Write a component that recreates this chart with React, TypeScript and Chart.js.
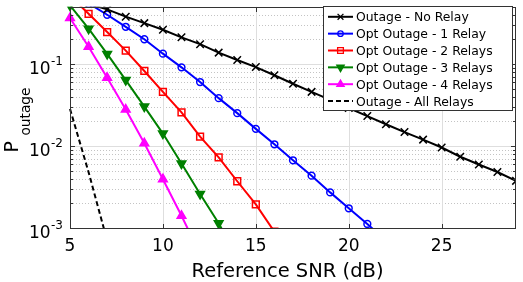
import React, { useEffect, useRef } from 'react';
import { Chart, registerables } from 'chart.js';

Chart.register(...registerables);

// ---- data ----
const snrNoRelay = [5, 6, 7, 8, 9, 10, 11, 12, 13, 14, 15, 16, 17, 18, 19, 20, 21, 22, 23, 24, 25, 26, 27, 28, 29];
const pNoRelay = [0.62, 0.54, 0.465, 0.379, 0.316, 0.262, 0.212, 0.175, 0.138, 0.112, 0.092, 0.073, 0.0576, 0.0458, 0.0366, 0.0291, 0.0232, 0.01845, 0.0148, 0.01197, 0.0096, 0.0074, 0.00596, 0.00482, 0.00376];

const snrOneRelay = [5, 6, 7, 8, 9, 10, 11, 12, 13, 14, 15, 16, 17, 18, 19, 20, 21, 22];
const pOneRelay = [0.7, 0.55, 0.4, 0.285, 0.201, 0.134, 0.0913, 0.0604, 0.0384, 0.0252, 0.0162, 0.0105, 0.0067, 0.00435, 0.00272, 0.00174, 0.00112, 0.0007];

const snrTwoRelays = [5, 6, 7, 8, 9, 10, 11, 12, 13, 14, 15, 16];
const pTwoRelays = [0.68, 0.411, 0.246, 0.146, 0.0824, 0.0458, 0.0257, 0.013, 0.00728, 0.00372, 0.00194, 0.0009];

const snrThreeRelays = [5, 6, 7, 8, 9, 10, 11, 12, 13, 14];
const pThreeRelays = [0.52, 0.27, 0.133, 0.0638, 0.0303, 0.0142, 0.00612, 0.0026, 0.00114, 0.00045];

const snrFourRelays = [5, 6, 7, 8, 9, 10, 11, 12];
const pFourRelays = [0.365, 0.163, 0.068, 0.0279, 0.0108, 0.00394, 0.00141, 0.00048];

const snrAllRelays = [5, 6, 7];
const pAllRelays = [0.0284, 0.0048, 0.0007];

const seriesLabels = [
  'Outage - No Relay',
  'Opt Outage - 1 Relay',
  'Opt Outage - 2 Relays',
  'Opt Outage - 3 Relays',
  'Opt Outage - 4 Relays',
  'Outage - All Relays',
];

const xTickValues = [5, 10, 15, 20, 25];
const yDecadeExponents = [-3, -2, -1];
const xMin = 5;
const xMax = 29;
const yMin = 0.001;
const yMax = 0.5;
const xTitle = 'Reference SNR (dB)';
const yTitleMain = 'P';
const yTitleSub = 'outage';

// ---- styles ----
const FONT = '"DejaVu Sans", "Liberation Sans", sans-serif';
const AXIS = '#333333';

type Marker = { style: string; radius: number; filled: boolean; rotation: number };
const seriesStyles: { color: string; dash: number[]; marker: Marker | null }[] = [
  { color: '#000000', dash: [], marker: { style: 'crossRot', radius: 5.3, filled: false, rotation: 0 } },
  { color: '#0000ff', dash: [], marker: { style: 'circle', radius: 3.4, filled: false, rotation: 0 } },
  { color: '#ff0000', dash: [], marker: { style: 'rect', radius: 4.8, filled: false, rotation: 0 } },
  { color: '#008000', dash: [], marker: { style: 'triangle', radius: 5, filled: true, rotation: 180 } },
  { color: '#ff00ff', dash: [], marker: { style: 'triangle', radius: 5, filled: true, rotation: 0 } },
  { color: '#000000', dash: [5, 3], marker: null },
];

const seriesX = [snrNoRelay, snrOneRelay, snrTwoRelays, snrThreeRelays, snrFourRelays, snrAllRelays];
const seriesY = [pNoRelay, pOneRelay, pTwoRelays, pThreeRelays, pFourRelays, pAllRelays];

function drawLegendMarker(ctx: CanvasRenderingContext2D, m: Marker, x: number, y: number, color: string, r: number) {
  ctx.save();
  ctx.strokeStyle = color;
  ctx.fillStyle = color;
  ctx.lineWidth = 1.3;
  ctx.setLineDash([]);
  ctx.beginPath();
  if (m.style === 'circle') {
    ctx.arc(x, y, r * 0.8, 0, Math.PI * 2);
    ctx.stroke();
  } else if (m.style === 'rect') {
    const s = r * 0.6;
    ctx.rect(x - s, y - s, 2 * s, 2 * s);
    ctx.stroke();
  } else if (m.style === 'crossRot') {
    const s = r * 0.55;
    ctx.moveTo(x - s, y - s);
    ctx.lineTo(x + s, y + s);
    ctx.moveTo(x - s, y + s);
    ctx.lineTo(x + s, y - s);
    ctx.stroke();
  } else if (m.style === 'triangle') {
    const rr = r * 0.85;
    let rad = (m.rotation * Math.PI) / 180;
    for (let i = 0; i < 3; i++) {
      const px = x + Math.sin(rad) * rr;
      const py = y - Math.cos(rad) * rr;
      if (i === 0) ctx.moveTo(px, py);
      else ctx.lineTo(px, py);
      rad += (2 * Math.PI) / 3;
    }
    ctx.closePath();
    ctx.fill();
    ctx.stroke();
  }
  ctx.restore();
}

const overlayPlugin = {
  id: 'matlabOverlay',
  beforeDatasetsDraw(chart: any) {
    const { ctx, chartArea: a, scales } = chart;
    const xs = scales.x;
    const ys = scales.y;
    ctx.save();
    ctx.lineWidth = 1;
    // minor y grid (dotted)
    ctx.strokeStyle = '#c4c4c4';
    ctx.setLineDash([1, 2]);
    for (const e of yDecadeExponents) {
      for (let k = 2; k <= 9; k++) {
        const v = k * Math.pow(10, e);
        if (v >= yMax) continue;
        const py = Math.round(ys.getPixelForValue(v)) + 0.5;
        ctx.beginPath();
        ctx.moveTo(a.left, py);
        ctx.lineTo(a.right, py);
        ctx.stroke();
      }
    }
    ctx.setLineDash([]);
    ctx.strokeStyle = '#dedede';
    for (const e of yDecadeExponents) {
      const v = Math.pow(10, e);
      if (v <= yMin) continue;
      const py = Math.round(ys.getPixelForValue(v)) + 0.5;
      ctx.beginPath();
      ctx.moveTo(a.left, py);
      ctx.lineTo(a.right, py);
      ctx.stroke();
    }
    for (const v of xTickValues) {
      if (v <= xMin) continue;
      const px = Math.round(xs.getPixelForValue(v)) + 0.5;
      ctx.beginPath();
      ctx.moveTo(px, a.top);
      ctx.lineTo(px, a.bottom);
      ctx.stroke();
    }
    ctx.restore();
  },
  afterDatasetsDraw(chart: any) {
    const { ctx, chartArea: a, scales } = chart;
    const xs = scales.x;
    const ys = scales.y;
    ctx.save();
    // axis box
    ctx.strokeStyle = AXIS;
    ctx.lineWidth = 1;
    ctx.setLineDash([]);
    const L = Math.round(a.left) + 0.5;
    const R = Math.round(a.right) - 0.5;
    const T = Math.round(a.top) + 0.5;
    const B = Math.round(a.bottom) + 0.5;
    ctx.strokeRect(L, T, R - L, B - T);
    // inward ticks
    ctx.beginPath();
    for (const v of xTickValues) {
      const px = Math.round(xs.getPixelForValue(v)) + 0.5;
      ctx.moveTo(px, B);
      ctx.lineTo(px, B - 4.5);
      ctx.moveTo(px, T);
      ctx.lineTo(px, T + 4.5);
    }
    for (const e of yDecadeExponents) {
      for (let k = 1; k <= 9; k++) {
        const v = k * Math.pow(10, e);
        if (v > yMax) continue;
        const len = k === 1 ? 4.5 : 2.5;
        const py = Math.round(ys.getPixelForValue(v)) + 0.5;
        ctx.moveTo(L, py);
        ctx.lineTo(L + len, py);
        ctx.moveTo(R, py);
        ctx.lineTo(R - len, py);
      }
    }
    ctx.stroke();

    // x tick labels
    ctx.fillStyle = '#000000';
    ctx.font = `17px ${FONT}`;
    ctx.textAlign = 'center';
    ctx.textBaseline = 'alphabetic';
    for (const v of xTickValues) {
      ctx.fillText(String(v), xs.getPixelForValue(v), 251);
    }
    // y tick labels 10^e
    for (const e of yDecadeExponents) {
      const py = ys.getPixelForValue(Math.pow(10, e));
      ctx.font = `12px ${FONT}`;
      const sup = String(e);
      const supW = ctx.measureText(sup).width;
      const supRight = a.left - 7;
      ctx.textAlign = 'left';
      ctx.fillText(sup, supRight - supW, py + 0.5);
      ctx.font = `17px ${FONT}`;
      ctx.textAlign = 'right';
      ctx.fillText('10', supRight - supW - 0.5, py + 9.5);
    }
    // x title
    ctx.font = `19.5px ${FONT}`;
    ctx.textAlign = 'center';
    ctx.fillText(xTitle, 287.5, 276.5);
    // y title (rotated)
    ctx.save();
    ctx.translate(17.5, 152.5);
    ctx.rotate(-Math.PI / 2);
    ctx.textAlign = 'left';
    ctx.font = `19px ${FONT}`;
    ctx.fillText(yTitleMain, 0, 0);
    ctx.font = `13.7px ${FONT}`;
    ctx.fillText(yTitleSub, 17, 12);
    ctx.restore();

    // legend
    const lx = 323.5;
    const ly = 6.5;
    const lw = 189;
    const lh = 104;
    ctx.fillStyle = '#ffffff';
    ctx.fillRect(lx, ly, lw, lh);
    ctx.strokeStyle = AXIS;
    ctx.lineWidth = 1;
    ctx.strokeRect(lx, ly, lw, lh);
    ctx.font = `12.4px ${FONT}`;
    ctx.textAlign = 'left';
    ctx.textBaseline = 'alphabetic';
    for (let i = 0; i < seriesLabels.length; i++) {
      const cy = 16.8 + i * 16.85;
      const st = seriesStyles[i];
      ctx.strokeStyle = st.color;
      ctx.lineWidth = 2;
      ctx.setLineDash(st.dash);
      ctx.beginPath();
      ctx.moveTo(328, cy);
      ctx.lineTo(353, cy);
      ctx.stroke();
      ctx.setLineDash([]);
      if (st.marker) drawLegendMarker(ctx, st.marker, 340.5, cy, st.color, st.marker.radius);
      ctx.fillStyle = '#000000';
      ctx.fillText(seriesLabels[i], 356, cy + 4.6);
    }
    ctx.restore();
  },
};

export default function App() {
  const canvasRef = useRef<HTMLCanvasElement | null>(null);

  useEffect(() => {
    document.body.style.margin = '0';
    document.body.style.overflow = 'hidden';
    const canvas = canvasRef.current;
    if (!canvas) return;

    const datasets = seriesLabels.map((label, i) => {
      const st = seriesStyles[i];
      const m = st.marker;
      return {
        label,
        data: seriesX[i].map((x, j) => ({ x, y: seriesY[i][j] })),
        borderColor: st.color,
        backgroundColor: st.color,
        borderWidth: 2,
        borderDash: st.dash,
        tension: 0,
        fill: false,
        pointStyle: m ? m.style : 'circle',
        pointRadius: m ? m.radius : 0,
        pointHoverRadius: m ? m.radius : 0,
        pointRotation: m ? m.rotation : 0,
        pointBorderColor: st.color,
        pointBackgroundColor: m && m.filled ? st.color : 'rgba(0,0,0,0)',
        pointBorderWidth: 1.5,
        clip: { left: 8, top: 0, right: 0, bottom: 0 },
      };
    });

    const chart = new Chart(canvas, {
      type: 'line',
      data: { datasets },
      options: {
        animation: false,
        responsive: false,
        devicePixelRatio: 1,
        layout: { padding: { left: 70, right: 7, top: 3, bottom: 54 } },
        scales: {
          x: { type: 'linear', min: xMin, max: xMax, display: false },
          y: { type: 'logarithmic', min: yMin, max: yMax, display: false },
        },
        plugins: {
          legend: { display: false },
          tooltip: { enabled: false },
        },
        events: [],
      } as any,
      plugins: [overlayPlugin],
    });

    return () => chart.destroy();
  }, []);

  return (
    <div style={{ width: 523, height: 282, background: '#ffffff' }}>
      <canvas ref={canvasRef} width={523} height={282} style={{ display: 'block' }} />
    </div>
  );
}
